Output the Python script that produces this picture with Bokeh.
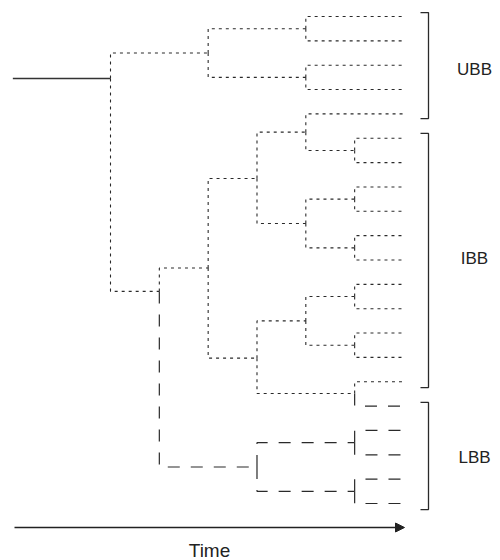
from bokeh.plotting import figure
from bokeh.models import Range1d, Arrow, NormalHead, Label
from bokeh.embed import file_html
from bokeh.resources import INLINE

# ---- tree data (time = x, row = vertical position in leaf rows) ----
node_name = ["R", "C", "N1", "A", "B", "I", "L", "I1", "I2", "I1a", "I1c",
             "I1b", "I1c1", "I1c2", "I2a", "I2b", "I2a1", "I2a2", "L1", "L2"]
node_parent = [None, "R", "R", "C", "C", "N1", "N1", "I", "I", "I1", "I1",
               "I1a", "I1c", "I1c", "I2", "I2", "I2a", "I2a", "L", "L"]
node_time = [0, 2, 1, 4, 4, 2, 3, 3, 3, 4, 4, 5, 5, 5, 4, 5, 5, 5, 5, 5]
node_row = [2.55, 1.5, 11.29, 0.5, 2.5, 10.33, 18.5, 6.65, 14.03, 4.75, 8.5,
            5.5, 7.5, 9.5, 12.5, 15.48, 11.5, 13.5, 17.5, 19.5]
node_style = [None, "dot", "dot", "dot", "dot", "dot", "dash", "dot", "dot",
              "dot", "dot", "dot", "dot", "dot", "dot", "dot", "dot", "dot",
              "dash", "dash"]

leaf_parent = ["A", "A", "B", "B", "I1a", "I1b", "I1b", "I1c1", "I1c1",
               "I1c2", "I1c2", "I2a1", "I2a1", "I2a2", "I2a2", "I2b", "I2b",
               "L1", "L1", "L2", "L2"]
leaf_style = ["dot"] * 16 + ["dash"] * 5
leaf_time = 6

stem_time = -2

bracket_labels = ["UBB", "IBB", "LBB"]
bracket_top = [-0.16, 4.80, 15.85]
bracket_bottom = [4.19, 15.24, 20.25]
label_row = [2.16, 9.92, 18.13]

axis_label = "Time"

# ---- geometry ----
pos = {n: (t, r) for n, t, r in zip(node_name, node_time, node_row)}
lines = {"dot": ([], []), "dash": ([], [])}
for n, par, sty in zip(node_name, node_parent, node_style):
    if par is None:
        continue
    pt, pr = pos[par]
    t, r = pos[n]
    lines[sty][0].append([pt, pt, t])
    lines[sty][1].append([pr, r, r])
for i, (par, sty) in enumerate(zip(leaf_parent, leaf_style)):
    pt, pr = pos[par]
    lines[sty][0].append([pt, pt, leaf_time])
    lines[sty][1].append([pr, i, i])

W, H = 500, 560
px_per_t = 48.83
px_per_row = 24.35
x0_px, y0_px = 110, 16  # px of t=0 / row 0
p = figure(width=W, height=H, output_backend="svg", toolbar_location=None,
           x_range=Range1d(-x0_px / px_per_t, (W - x0_px) / px_per_t),
           y_range=Range1d((H - y0_px) / px_per_row, -y0_px / px_per_row),
           min_border=0, outline_line_color=None)
p.axis.visible = False
p.grid.visible = False

col = "#2a2a2a"
p.multi_line(lines["dot"][0], lines["dot"][1], line_color=col, line_width=1.1,
             line_dash="3 4")
p.multi_line(lines["dash"][0], lines["dash"][1], line_color=col, line_width=1.2,
             line_dash="12 11")
root_t, root_r = pos["R"]
p.line([stem_time, root_t], [root_r, root_r], line_color="#333333", line_width=1.5)

# brackets
bx = (428 - 110) / px_per_t
tick = 8 / px_per_t
bxs, bys = [], []
for top, bot in zip(bracket_top, bracket_bottom):
    bxs.append([bx - tick, bx, bx, bx - tick])
    bys.append([top, top, bot, bot])
p.multi_line(bxs, bys, line_color=col, line_width=1.3)

lx = (474 - 110) / px_per_t
for lab, r in zip(bracket_labels, label_row):
    p.add_layout(Label(x=lx, y=r, text=lab, text_align="center",
                       text_baseline="middle", text_font="Liberation Sans",
                       text_font_size="17px", text_color="#222222"))

# time arrow
arrow_row = (527 - 16) / px_per_row
a_start = (14 - 110) / px_per_t
a_end = (404 - 110) / px_per_t
p.add_layout(Arrow(x_start=a_start, y_start=arrow_row, x_end=a_end, y_end=arrow_row,
                   line_color="#222222", line_width=1.3,
                   end=NormalHead(size=9, fill_color="#222222", line_color="#222222",
                                  line_width=1)))
p.add_layout(Label(x=(a_start + a_end) / 2, y=(550 - 16) / px_per_row, text=axis_label,
                   text_align="center", text_baseline="middle",
                   text_font="Liberation Sans", text_font_size="19px",
                   text_color="#222222"))

open("out.html", "w").write(file_html(p, INLINE))
